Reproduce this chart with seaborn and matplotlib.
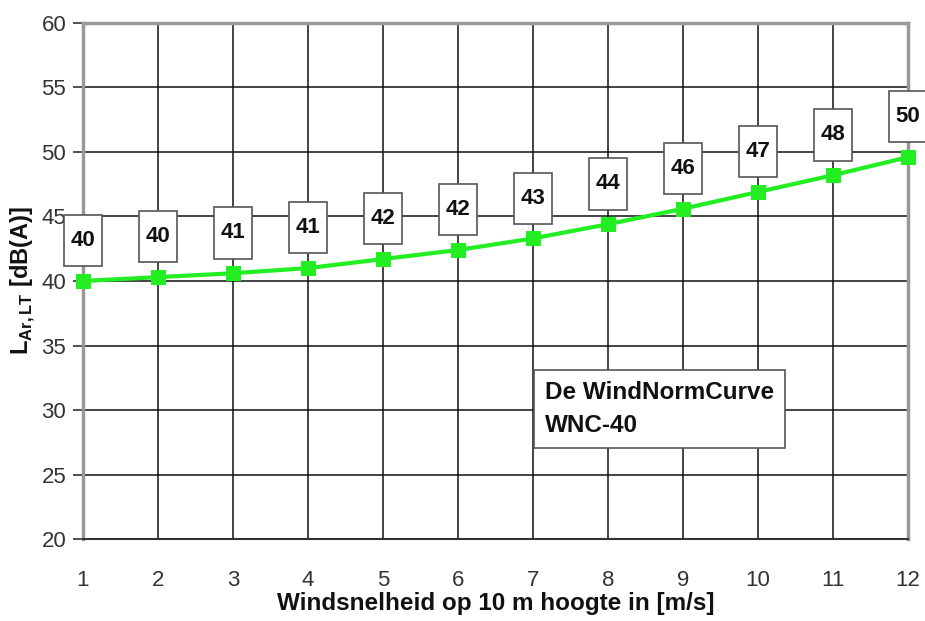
import numpy as np
import pandas as pd
import matplotlib
matplotlib.use('Agg')
import matplotlib.pyplot as plt
from matplotlib.path import Path
import seaborn as sns

# data
wind_speed = [1, 2, 3, 4, 5, 6, 7, 8, 9, 10, 11, 12]
wnc_level = [40.0, 40.3, 40.6, 41.0, 41.7, 42.4, 43.3, 44.4, 45.6, 46.9, 48.2, 49.6]
y_ticks = [20, 25, 30, 35, 40, 45, 50, 55, 60]
legend_lines = ['De WindNormCurve', 'WNC-40']

df = pd.DataFrame({'wind': wind_speed, 'level': wnc_level})

sns.set_theme(style='white')
plt.rcParams['font.family'] = ['Liberation Sans', 'DejaVu Sans']
plt.rcParams['mathtext.fontset'] = 'custom'
plt.rcParams['mathtext.rm'] = 'Liberation Sans'
plt.rcParams['mathtext.bf'] = 'Liberation Sans:bold'


def tall_box(x0, y0, width, height, mutation_size):
    # box narrow left/right, tall top/bottom like the Excel data labels
    hp = 0.3 * mutation_size
    vp = 0.68 * mutation_size
    x0, x1 = x0 - hp, x0 + width + hp
    y0, y1 = y0 - vp, y0 + height + vp
    return Path([(x0, y0), (x1, y0), (x1, y1), (x0, y1), (x0, y0)], closed=True)


fig = plt.figure(figsize=(9.25, 6.21), dpi=100)
ax = fig.add_axes([0.0897, 0.132, 0.8919, 0.831])

sns.lineplot(data=df, x='wind', y='level', ax=ax, color='#22ee22', linewidth=3,
             marker='s', markersize=10.5, markeredgecolor='#22ee22', clip_on=False, zorder=5)

# value labels in boxes above the points
for x, v in zip(wind_speed, wnc_level):
    ax.annotate(f'{v:.0f}', (x, v), xytext=(0, 29), textcoords='offset points',
                ha='center', va='center', fontsize=16, fontweight='bold', color='#111111',
                bbox=dict(boxstyle=tall_box, fc='white', ec='#555555', lw=1.2),
                annotation_clip=False, zorder=6)

ax.text(0.56, 0.252, '\n'.join(legend_lines), transform=ax.transAxes,
        ha='left', va='center', fontsize=17.5, fontweight='bold', color='#111111',
        linespacing=1.55,
        bbox=dict(boxstyle='square,pad=0.45', fc='white', ec='#555555', lw=1.2), zorder=6)

ax.set_xlim(1, 12)
ax.set_ylim(20, 60)
ax.set_xticks(wind_speed)
ax.set_yticks(y_ticks)
ax.grid(True, color='#111111', linewidth=1.1)
ax.set_axisbelow(True)
ax.tick_params(axis='x', length=0, pad=22, labelsize=16, labelcolor='#333333')
ax.tick_params(axis='y', length=7, width=1.2, color='#333333', direction='out', left=True,
               pad=5, labelsize=16, labelcolor='#333333')

for side in ['left', 'top', 'right']:
    ax.spines[side].set_color('#999999')
    ax.spines[side].set_linewidth(2.5)
ax.spines['bottom'].set_color('#333333')
ax.spines['bottom'].set_linewidth(1.5)

ax.set_xlabel('Windsnelheid op 10 m hoogte in [m/s]', fontsize=17.5, fontweight='bold',
              color='#111111', labelpad=1)
ax.set_ylabel(r'L$_{\mathbf{Ar,LT}}$ [dB(A)]', fontsize=17, fontweight='bold',
              color='#111111', labelpad=3)

plt.savefig('out.png', dpi=100)
